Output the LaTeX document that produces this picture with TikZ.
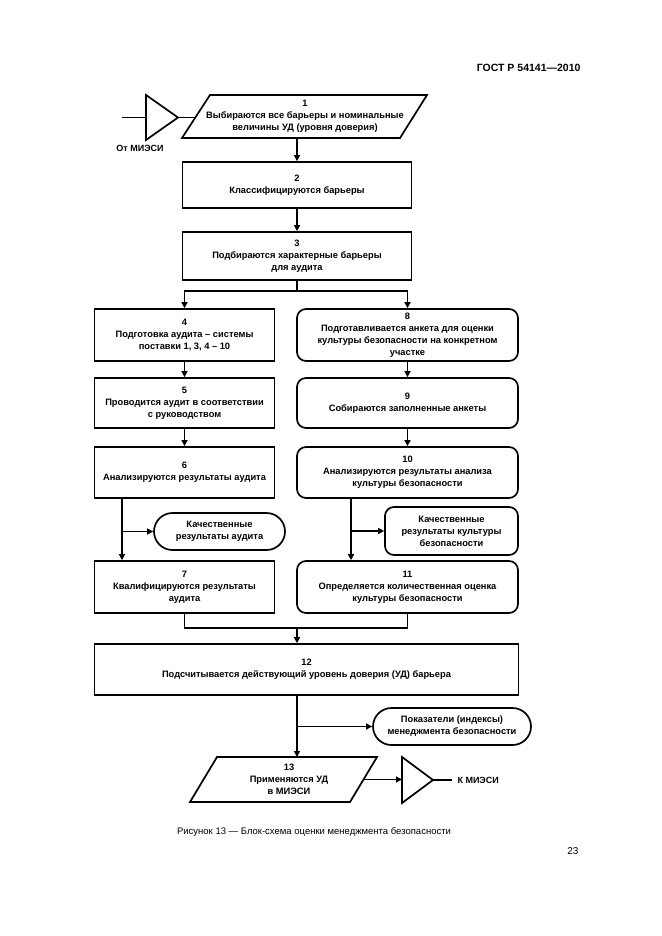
\documentclass[tikz,border=0pt]{standalone}
\usepackage{fontspec}
\setmainfont{Liberation Sans}
\usetikzlibrary{arrows.meta,shapes.misc}
\begin{document}
\begin{tikzpicture}[x=1pt,y=-1pt,
  ln/.style={line width=1.7pt,line join=miter},
  arr/.style={ln,-{Triangle[length=6pt,width=6pt]}},
  txt/.style={align=center,font=\bfseries\fontsize{9.3}{12}\selectfont,inner sep=1pt},
  box/.style={txt,draw,line width=1.7pt},
  rbox/.style={box,rounded corners=9pt},
  stad/.style={box,rounded rectangle},
]
\useasboundingbox (0,0) rectangle (661,936);
\node[anchor=east,font=\bfseries\fontsize{10.5}{12}\selectfont] (hdr) at (584,68) {ГОСТ Р 54141—2010};

% input triangle and parallelogram 1
\draw[ln] (146,95) -- (146,140) -- (178,117.5) -- cycle;
\coordinate (t1w) at (146,117.5);
\coordinate (t1e) at (178,117.5);
\coordinate (in1) at (122,117.5);
\draw[ln] (in1) -- (t1w);
\draw[ln] (210,95) -- (427,95) -- (400,138) -- (182,138) -- cycle;
\coordinate (p1w) at (196,117.5);
\coordinate (p1s) at (297,138);
\draw[ln] (t1e) -- (p1w);
\node[txt] (p1) at (305,116.5) {1\\Выбираются все барьеры и номинальные\\величины УД (уровня доверия)};
\node[font=\bfseries\fontsize{9}{10}\selectfont] (from) at (140,148) {От МИЭСИ};

\node[box,minimum width=229pt,minimum height=46pt] (b2) at (297,185) {2\\Классифицируются барьеры};
\node[box,minimum width=229pt,minimum height=48pt] (b3) at (297,256) {3\\Подбираются характерные барьеры\\для аудита};

\node[box,minimum width=180pt,minimum height=52pt] (b4) at (184.5,335) {4\\Подготовка аудита – системы\\поставки 1, 3, 4 – 10};
\node[box,minimum width=180pt,minimum height=50pt] (b5) at (184.5,403) {5\\Проводится аудит в соответствии\\с руководством};
\node[box,minimum width=180pt,minimum height=51pt] (b6) at (184.5,472.5) {6\\Анализируются результаты аудита};
\node[box,minimum width=180pt,minimum height=52pt] (b7) at (184.5,587) {7\\Квалифицируются результаты\\аудита};

\node[rbox,minimum width=221pt,minimum height=52pt] (b8) at (407.5,335) {8\\Подготавливается анкета для оценки\\культуры безопасности на конкретном\\участке};
\node[rbox,minimum width=221pt,minimum height=50pt] (b9) at (407.5,403) {9\\Собираются заполненные анкеты};
\node[rbox,minimum width=221pt,minimum height=51pt] (b10) at (407.5,472.5) {10\\Анализируются результаты анализа\\культуры безопасности};
\node[rbox,minimum width=221pt,minimum height=52pt] (b11) at (407.5,587) {11\\Определяется количественная оценка\\культуры безопасности};

\node[stad,minimum width=133pt,minimum height=37pt] (q1) at (219.5,531.5) {Качественные\\результаты аудита};
\node[rbox,minimum width=133pt,minimum height=48pt] (q2) at (451.5,531) {Качественные\\результаты культуры\\безопасности};

\node[box,minimum width=424pt,minimum height=51pt] (b12) at (306.5,669.5) {12\\Подсчитывается действующий уровень доверия (УД) барьера};
\node[stad,minimum width=160pt,minimum height=37pt] (q3) at (452,726.5) {Показатели (индексы)\\менеджмента безопасности};

% parallelogram 13 and output triangle
\draw[ln] (217,757) -- (377,757) -- (350,802) -- (190,802) -- cycle;
\coordinate (p13n) at (297,757);
\coordinate (p13e) at (363.5,779.5);
\node[txt] (p13) at (289,779.5) {13\\Применяются УД\\в МИЭСИ};
\draw[ln] (402,757) -- (402,803) -- (433,780) -- cycle;
\coordinate (t2w) at (402,779.5);
\coordinate (t2e) at (433,780);
\coordinate (out1) at (452,780);
\draw[arr] (p13e) -- (t2w);
\draw[ln] (t2e) -- (out1);
\node[anchor=west,font=\bfseries\fontsize{9}{10}\selectfont] (to) at (454,780) {К МИЭСИ};

% connectors
\coordinate (ax) at (297,0);
\coordinate (xl) at (122,0);
\coordinate (xr) at (351,0);
\draw[arr] (p1s) -- (ax |- b2.north);
\draw[arr] (b2.south) -- (b3.north);
\coordinate (j1) at (297,291);
\draw[ln] (b3.south) -- (j1);
\draw[arr] (j1) -| (b4.north);
\draw[arr] (j1) -| (b8.north);
\draw[arr] (b4) -- (b5);
\draw[arr] (b5) -- (b6);
\draw[arr] (b8) -- (b9);
\draw[arr] (b9) -- (b10);
\draw[arr] (xl |- b6.south) -- (xl |- b7.north);
\draw[arr] (xl |- q1.west) -- (q1.west);
\draw[arr] (xr |- b10.south) -- (xr |- b11.north);
\draw[arr] (xr |- q2.west) -- (q2.west);
\coordinate (j2) at (297,628);
\draw[ln] (b7.south) |- (j2) -| (b11.south);
\draw[arr] (j2) -- (j2 |- b12.north);
\draw[arr] (ax |- b12.south) -- (p13n);
\draw[arr] (ax |- q3.west) -- (q3.west);

\node[font=\fontsize{9.5}{11}\selectfont] (cap) at (314,832) {Рисунок 13 — Блок-схема оценки менеджмента безопасности};
\node[anchor=east,font=\fontsize{10}{12}\selectfont] (pg) at (582,851) {23};
\end{tikzpicture}
\end{document}
